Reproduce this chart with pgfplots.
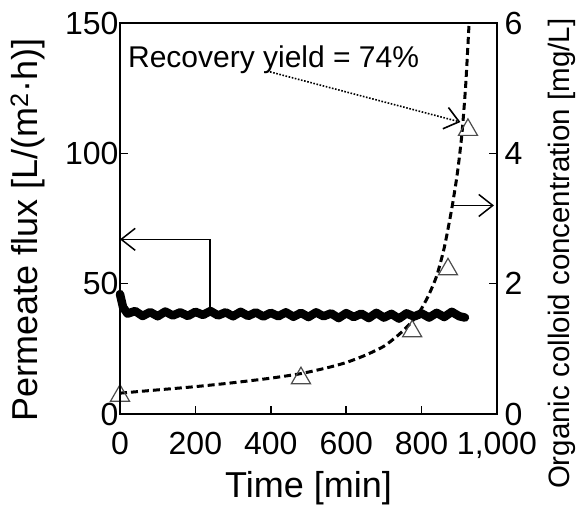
\documentclass[border=0pt]{standalone}
\usepackage{fontspec}
\setmainfont{Liberation Sans}
\usepackage{pgfplots}
\pgfplotsset{compat=1.18}
\usetikzlibrary{arrows.meta}

\pgfplotstableread{
x y
0 46
8 41
20 38.5
40 39.5
60 37.6
80 39.1
100 37.5
120 39.3
140 37.8
160 39.0
180 37.6
200 39.2
220 38.0
240 39.5
260 37.8
280 39.0
300 37.5
320 39.2
340 37.6
360 39.0
380 37.4
400 38.8
420 37.5
440 39.0
460 37.3
480 38.8
500 37.2
520 39.0
540 37.5
560 38.6
580 36.8
600 38.7
620 37.2
640 38.5
660 36.8
680 38.8
700 37.0
720 38.4
740 36.6
760 38.6
780 37.4
800 38.6
820 37.0
840 38.8
860 37.2
880 39.2
900 37.5
915 37.0
}\flux

\pgfplotstableread{
x y
0 0.28
480 0.55
775 1.27
870 2.22
923 4.36
}\tri

\pgfplotstableread{
x y
0 0.32
100 0.37
200 0.42
300 0.48
400 0.55
480 0.62
550 0.71
600 0.79
650 0.90
700 1.04
740 1.22
775 1.42
800 1.62
820 1.84
840 2.12
860 2.55
880 3.15
895 3.70
907 4.30
917 5.05
926 6.00
}\curve

\begin{document}
\begin{tikzpicture}
\path[use as bounding box] (-120pt,-97pt) rectangle (464pt,414pt);
% right axis
\begin{axis}[
  width=377pt, height=391pt, scale only axis,
  at={(0,0)}, anchor=south west,
  xmin=0, xmax=1000, ymin=0, ymax=6,
  axis x line=none, axis y line*=right,
  ytick={0,2,4,6},
  tick align=inside, major tick length=8pt,
  axis line style={line width=1.5pt, -},
  tick style={line width=1.5pt, black},
  tick label style={font=\fontsize{32}{34}\selectfont},
  yticklabel style={xshift=4pt},
  /pgf/number format/assume math mode=true,
  ylabel={Organic colloid concentration [mg/L]},
  ylabel style={font=\fontsize{29.5}{32}\selectfont, at={(axis description cs:1.172,0.41)}, anchor=center},
  clip=false,
]
\addplot[black, line width=3pt, dash pattern=on 7pt off 4pt, smooth, tension=0.4] table[x=x,y=y] {\curve};
\addplot[only marks, mark=triangle, mark size=11pt, mark options={draw=black!70, fill=white, line width=1.2pt}] table[x=x,y=y] {\tri};
\draw[line width=1.5pt, -{Straight Barb[length=14pt,width=22pt,line width=1.5pt]}] (axis cs:883,3.2) -- (axis cs:992,3.2);
\draw[line width=1.6pt, dash pattern=on 1.6pt off 1.6pt, -{Straight Barb[length=14pt,width=22pt,line width=1.6pt]}] (axis cs:398,5.25) -- (axis cs:903,4.48);
\end{axis}
% left axis
\begin{axis}[
  width=377pt, height=391pt, scale only axis,
  at={(0,0)}, anchor=south west,
  xmin=0, xmax=1000, ymin=0, ymax=150,
  xtick={0,200,400,600,800,1000}, xticklabels={0,200,400,600,800,{1,000}},
  ytick={0,50,100,150},
  xtick pos=bottom, ytick pos=left,
  tick align=inside, major tick length=8pt,
  axis line style={line width=1.5pt},
  tick style={line width=1.5pt, black},
  tick label style={font=\fontsize{32}{34}\selectfont},
  xticklabel style={yshift=-15pt},
  yticklabel style={xshift=2pt},
  /pgf/number format/assume math mode=true,
  xlabel={Time [min]},
  ylabel={Permeate flux [L/(m\textsuperscript{2}·h)]},
  label style={font=\fontsize{36}{40}\selectfont},
  xlabel style={at={(axis description cs:0.5,-0.19)}, anchor=center},
  ylabel style={at={(axis description cs:-0.245,0.47)}, anchor=center},
  clip=false,
]
\addplot[black, line width=8.5pt, line join=round, line cap=round] table[x=x,y=y] {\flux};
\draw[line width=1.5pt, -{Straight Barb[length=14pt,width=22pt,line width=1.5pt]}] (axis cs:239,67) -- (axis cs:0,67);
\draw[line width=1.5pt] (axis cs:239,67) -- (axis cs:239,40);
\node[anchor=base west, inner sep=0pt, font=\fontsize{30}{32}\selectfont] at (axis cs:21,133) {Recovery yield = 74\%};
\end{axis}
\end{tikzpicture}
\end{document}
